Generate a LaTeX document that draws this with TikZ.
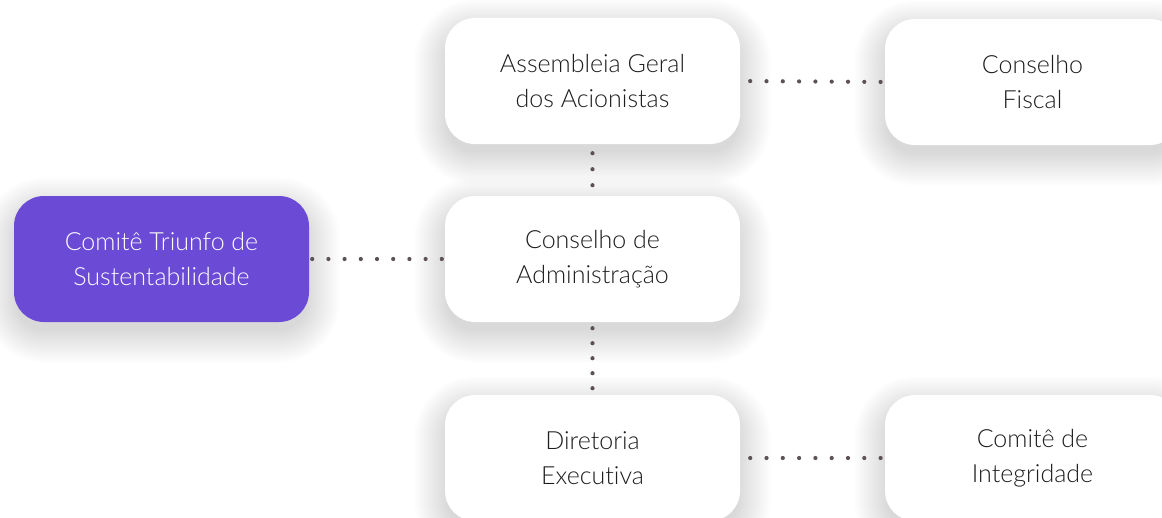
\documentclass[tikz,border=0pt]{standalone}
\usepackage{fontspec}
\setmainfont{Lato}[UprightFont={* Light}, Ligatures=NoCommon]
\usetikzlibrary{calc}
\pgfdeclarelayer{background}
\pgfsetlayers{background,main}
\definecolor{purp}{RGB}{107,74,214}
\definecolor{dotc}{RGB}{92,82,82}
\definecolor{txt}{RGB}{30,30,30}
\tikzset{
  card/.style={rectangle, rounded corners=30pt, minimum width=295pt, minimum height=126pt,
    fill=white, text=txt, align=center, font=\fontsize{25}{35}\selectfont},
  purplecard/.style={card, fill=purp, text=white},
  dotline/.style={draw=dotc, line width=4.2pt, line cap=round, dash pattern=on 0pt off #1},
  dotline/.default=16.3pt,
  shadowstep/.style={fill=black, opacity=0.0075}
}
\newcommand{\cardshadow}[1]{%
  \foreach \i in {0,...,18}{%
    \pgfmathsetmacro{\dd}{\i*1.8}%
    \pgfmathsetmacro{\rr}{28+\i*1.8}%
    \fill[shadowstep, rounded corners=\rr pt]
      ($(#1.north west)+(-\dd+2,-\dd+14)$) rectangle ($(#1.south east)+(\dd-2,\dd+8)$);
  }%
}
\begin{document}
\begin{tikzpicture}[x=1pt,y=-1pt]
\useasboundingbox (0,0) rectangle (1162,517);
\clip (0,0) rectangle (1162,517);
\node[purplecard] (cts) at (161.5,259) {Comitê Triunfo de\\Sustentabilidade};
\node[card] (assem) at (592.5,81) {Assembleia Geral\\dos Acionistas};
\node[card] (cadm) at (592.5,259) {Conselho de\\Administração};
\node[card] (dir) at (592.5,458) {Diretoria\\Executiva};
\node[card] (cfis) at (1032.5,82) {Conselho\\Fiscal};
\node[card] (cint) at (1032.5,458) {Comitê de\\Integridade};
\begin{pgfonlayer}{background}
\fill[white] (0,0) rectangle (1162,517);
\cardshadow{cts}
\cardshadow{assem}
\cardshadow{cadm}
\cardshadow{dir}
\cardshadow{cfis}
\cardshadow{cint}
\draw[dotline=16.2pt, shorten <=3pt] (cts.east) -- (cadm.west);
\draw[dotline=16.3pt, shorten <=10pt] (assem.east) -- (cfis.west);
\draw[dotline=16.3pt, shorten <=10pt] (dir.east) -- (cint.west);
\draw[dotline=16pt, shorten <=9pt, shorten >=9pt] (assem.south) -- (cadm.north);
\draw[dotline=15pt, shorten <=6pt, shorten >=5pt] (cadm.south) -- (dir.north);
\end{pgfonlayer}
\end{tikzpicture}
\end{document}
